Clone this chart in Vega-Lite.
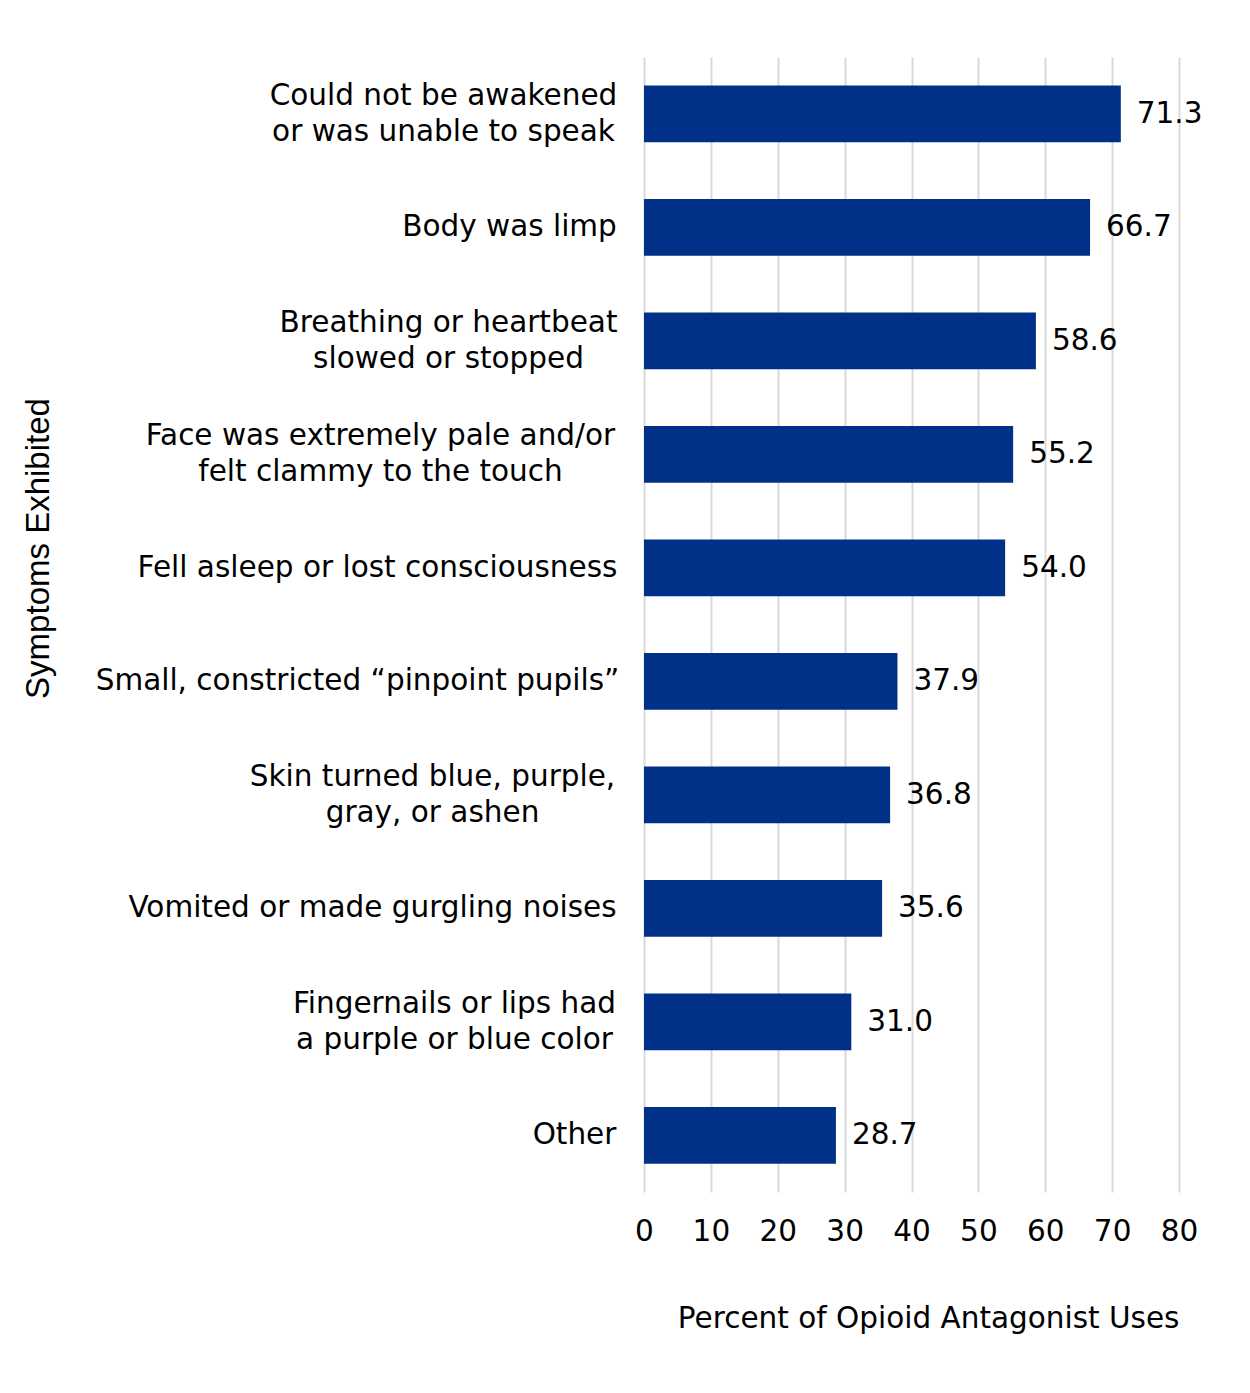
{
  "$schema": "https://vega.github.io/schema/vega-lite/v6.json",
  "width": 535,
  "height": 1135,
  "autosize": {"type": "none"},
  "padding": {"left": 644, "top": 57, "right": 71, "bottom": 201},
  "background": "white",
  "data": {
    "values": [
      {"symptom": "Could not be awakened|or was unable to speak", "pct": 71.3},
      {"symptom": "Body was limp", "pct": 66.7},
      {"symptom": "Breathing or heartbeat|slowed or stopped", "pct": 58.6},
      {"symptom": "Face was extremely pale and/or|felt clammy to the touch", "pct": 55.2},
      {"symptom": "Fell asleep or lost consciousness", "pct": 54.0},
      {"symptom": "Small, constricted “pinpoint pupils”", "pct": 37.9},
      {"symptom": "Skin turned blue, purple,|gray, or ashen", "pct": 36.8},
      {"symptom": "Vomited or made gurgling noises", "pct": 35.6},
      {"symptom": "Fingernails or lips had|a purple or blue color", "pct": 31.0},
      {"symptom": "Other", "pct": 28.7}
    ]
  },
  "encoding": {
    "y": {
      "field": "symptom",
      "type": "nominal",
      "sort": null,
      "scale": {"paddingInner": 0.5, "paddingOuter": 0.25},
      "axis": {
        "title": "Symptoms Exhibited",
        "titleFont": "Liberation Sans",
        "titleFontSize": 33,
        "titleFontWeight": "normal",
        "titleColor": "black",
        "titleAngle": 270,
        "titleAlign": "center",
        "titleBaseline": "middle",
        "titleX": -606,
        "titleY": 491,
        "domain": false,
        "ticks": false,
        "grid": false,
        "labelExpr": "split(datum.label, '|')",
        "labelFont": "DejaVu Sans",
        "labelFontSize": 29.5,
        "labelColor": "black",
        "labelLineHeight": 36,
        "labelLimit": 0,
        "labelAlign": "center",
        "labelBaseline": "middle",
        "labelOffset": {
          "condition": {"test": "indexof(datum.value, '|') >= 0", "value": -18},
          "value": 0
        },
        "labelPadding": {
          "condition": [
            {"test": "indexof(datum.value, 'Could') == 0", "value": 201},
            {"test": "indexof(datum.value, 'Body') == 0", "value": 135},
            {"test": "indexof(datum.value, 'Breathing') == 0", "value": 196},
            {"test": "indexof(datum.value, 'Face') == 0", "value": 264},
            {"test": "indexof(datum.value, 'Fell') == 0", "value": 267},
            {"test": "indexof(datum.value, 'Small') == 0", "value": 287},
            {"test": "indexof(datum.value, 'Skin') == 0", "value": 212},
            {"test": "indexof(datum.value, 'Vomited') == 0", "value": 272},
            {"test": "indexof(datum.value, 'Fingernails') == 0", "value": 190}
          ],
          "value": 70
        }
      }
    },
    "x": {
      "field": "pct",
      "type": "quantitative",
      "scale": {"domain": [0, 80], "nice": false},
      "axis": {
        "values": [0, 10, 20, 30, 40, 50, 60, 70, 80],
        "grid": true,
        "gridColor": "#d9d9d9",
        "gridWidth": 2,
        "domain": false,
        "ticks": false,
        "labelFlush": false,
        "labelFont": "DejaVu Sans",
        "labelFontSize": 29.5,
        "labelColor": "black",
        "labelPadding": 25,
        "title": "Percent of Opioid Antagonist Uses",
        "titleFont": "DejaVu Sans",
        "titleFontSize": 29.5,
        "titleFontWeight": "normal",
        "titleColor": "black",
        "titleAnchor": "end",
        "titleAlign": "right",
        "titleX": 535,
        "titleY": 126,
        "titleBaseline": "middle"
      }
    }
  },
  "layer": [
    {"mark": {"type": "bar", "color": "#003087"}},
    {
      "mark": {"type": "text", "align": "left", "baseline": "middle", "dx": 16, "fontSize": 29.5, "font": "DejaVu Sans", "color": "black"},
      "encoding": {"text": {"field": "pct", "type": "quantitative", "format": ".1f"}}
    }
  ],
  "config": {"view": {"stroke": null}}
}
